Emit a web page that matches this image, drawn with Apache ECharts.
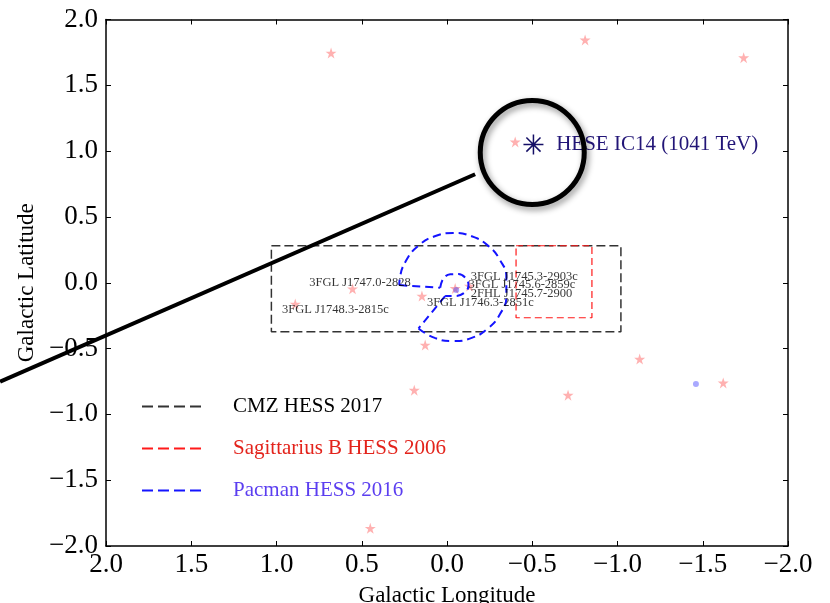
<!DOCTYPE html>
<html><head><meta charset="utf-8">
<script src="https://cdn.jsdelivr.net/npm/echarts@6/dist/echarts.min.js"></script>
<style>html,body{margin:0;padding:0;background:#fff}#c{width:830px;height:603px}</style>
</head><body><div id="c"></div>
<script>
// ---- data ----
const axisMin = -2, axisMax = 2, axisStep = 0.5;

const fermiStars = [
  [0.68, 1.745], [-0.81, 1.845], [-1.74, 1.71], [-0.40, 1.07],
  [0.554, -0.046], [0.89, -0.162], [0.147, -0.101], [-0.048, -0.043], [-0.132, -0.025],
  [0.128, -0.473], [0.192, -0.816], [-0.71, -0.854], [-1.13, -0.58], [-1.62, -0.761],
  [0.45, -1.865]
];
const blueDots = [[-0.054, -0.055], [-1.46, -0.77]];

const sourceLabels = [
  [0.808, -0.002, '3FGL J1747.0-2828'],
  [0.968, -0.207, '3FGL J1748.3-2815c'],
  [-0.140, 0.046, '3FGL J1745.3-2903c'],
  [-0.126, -0.017, '3FGL J1745.6-2859c'],
  [-0.140, -0.081, '2FHL J1745.7-2900'],
  [0.118, -0.152, '3FGL J1746.3-2851c']
];

const heseEvent = [[-0.507, 1.05, 'HESE IC14 (1041 TeV)']];

const cmzBox = [[1.03, 0.281], [-1.02, 0.281], [-1.02, -0.372], [1.03, -0.372], [1.03, 0.281]];
const sgrBBox = [[-0.405, 0.281], [-0.85, 0.281], [-0.85, -0.266], [-0.405, -0.266], [-0.405, 0.281]];

const pacmanOuter = [
  [0.167, -0.347], [0.072, -0.419], [-0.036, -0.443], [-0.145, -0.419], [-0.240, -0.347],
  [-0.311, -0.238], [-0.348, -0.104], [-0.348, 0.039], [-0.311, 0.172], [-0.240, 0.282],
  [-0.145, 0.353], [-0.036, 0.378], [0.072, 0.353], [0.167, 0.282], [0.238, 0.172],
  [0.276, 0.039], [0.280, -0.018]
];
const pacmanMouthTop = [[0.280, -0.018], [0.040, -0.038]];
const pacmanInner = [
  [0.040, -0.038], [0.021, 0.033], [-0.019, 0.064], [-0.067, 0.066], [-0.111, 0.033],
  [-0.126, -0.017], [-0.107, -0.071], [-0.048, -0.101], [0.011, -0.101]
];
const pacmanMouthBottom = [[0.011, -0.101], [0.167, -0.347]];

const zoomCircle = [[-0.5, 0.99]];
const pointerLine = [[2.621, -0.752], [-0.165, 0.824]];

const legendNames = ['CMZ HESS 2017', 'Sagittarius B HESS 2006', 'Pacman HESS 2016'];

// ---- chart ----
const FONT = '"Liberation Serif", "DejaVu Serif", serif';
const fmt = v => (v < 0 ? '\u2212' : '') + Math.abs(v).toFixed(1);
const STAR = 'path://M0,-1L0.2245,-0.309L0.951,-0.309L0.363,0.118L0.588,0.809L0,0.382L-0.588,0.809L-0.363,0.118L-0.951,-0.309L-0.2245,-0.309Z';
const ASTER = 'path://M10,0L10,20M0,10L20,10M2.93,2.93L17.07,17.07M17.07,2.93L2.93,17.07';

function axis(pos, isX, main) {
  const a = {
    type: 'value', min: axisMin, max: axisMax, interval: axisStep, position: pos,
    axisLine: { show: true, onZero: false, lineStyle: { color: '#000', width: 1.5 } },
    axisTick: { show: true, inside: true, length: 5, lineStyle: { color: '#000', width: 1 } },
    axisLabel: { show: main, formatter: fmt, color: '#000', fontFamily: FONT, fontSize: 27, margin: isX ? 5 : 8 },
    splitLine: { show: false }
  };
  if (isX) a.inverse = true;
  if (main) {
    a.name = isX ? 'Galactic Longitude' : 'Galactic Latitude';
    a.nameLocation = 'middle';
    a.nameGap = isX ? 38 : 66;
    a.nameTextStyle = { color: '#000', fontFamily: FONT, fontSize: 23 };
  }
  return a;
}

const lineSeries = (name, data, color, width, dash, smooth) => ({
  type: 'line', name, data, smooth: smooth || false, symbol: 'none', silent: true,
  lineStyle: { color, width, type: dash }, itemStyle: { color }, z: 3, animation: false
});

const option = {
  animation: false,
  backgroundColor: '#fff',
  grid: { left: 106, right: 42, top: 19.5, bottom: 57, containLabel: false, outerBoundsMode: 'none' },
  xAxis: [axis('bottom', true, true), axis('top', true, false)],
  yAxis: [axis('left', false, true), axis('right', false, false)],
  legend: {
    orient: 'vertical', left: 136, top: 391, itemWidth: 61, itemHeight: 10, itemGap: 21,
    selectedMode: false,
    itemStyle: { opacity: 0 },
    lineStyle: { type: [11, 5] },
    formatter: n => '{s|}' + n,
    textStyle: { fontFamily: FONT, fontSize: 21, rich: { s: { width: 25 } } },
    data: [
      { name: legendNames[0], textStyle: { color: '#000' } },
      { name: legendNames[1], textStyle: { color: '#e3231b' } },
      { name: legendNames[2], textStyle: { color: '#5b3ef0' } }
    ]
  },
  series: [
    lineSeries(legendNames[0], cmzBox, '#333', 1.5, [9, 4]),
    lineSeries(legendNames[1], sgrBBox, '#ff1a1a', 1.2, [7, 4]),
    lineSeries(legendNames[2], pacmanOuter, '#1414ff', 2, [8, 5], 0.5),
    lineSeries(legendNames[2], pacmanMouthTop, '#1414ff', 2, [8, 5]),
    lineSeries(legendNames[2], pacmanInner, '#1414ff', 2, [8, 5], 0.4),
    lineSeries(legendNames[2], pacmanMouthBottom, '#1414ff', 2, [8, 5]),
    {
      type: 'scatter', name: 'fermi', data: fermiStars, symbol: STAR, symbolSize: 11,
      itemStyle: { color: 'rgba(255,60,60,0.5)' }, silent: true, z: 2
    },
    {
      type: 'scatter', name: 'dots', data: blueDots, symbol: 'circle', symbolSize: 6,
      itemStyle: { color: 'rgba(40,40,255,0.5)' }, silent: true, z: 2
    },
    {
      type: 'scatter', name: 'labels', data: sourceLabels, symbolSize: 0, silent: true, z: 4,
      label: { show: true, position: 'right', distance: 0, formatter: p => p.data[2],
        color: '#000', fontFamily: FONT, fontSize: 12.5 }
    },
    {
      type: 'scatter', name: 'hese', data: heseEvent, symbol: ASTER, symbolSize: 20, silent: true, z: 4,
      itemStyle: { color: '#140f66', borderColor: '#140f66', borderWidth: 1.5, opacity: 1 },
      label: { show: true, position: 'right', distance: 12, formatter: p => p.data[2],
        color: '#221577', fontFamily: FONT, fontSize: 21, textBorderWidth: 0 }
    },
    {
      type: 'custom', name: 'pointer', data: pointerLine, silent: true, z: 6, clip: false,
      encode: { x: 0, y: 1 },
      renderItem: (params, api) => {
        if (params.dataIndex !== 0) return null;
        const pts = pointerLine.map(p => api.coord(p));
        return { type: 'polyline', shape: { points: pts }, style: { stroke: '#000', lineWidth: 4, fill: null } };
      }
    },
    {
      type: 'scatter', name: 'circle', data: zoomCircle, symbol: 'circle', symbolSize: 104, silent: true, z: 6,
      itemStyle: { color: 'none', borderColor: '#000', borderWidth: 5, opacity: 1,
        shadowBlur: 6, shadowColor: 'rgba(0,0,0,0.45)', shadowOffsetX: 2, shadowOffsetY: 3 }
    }
  ]
};

const chart = echarts.init(document.getElementById('c'), null, { renderer: 'canvas' });
chart.setOption(option);
</script></body></html>
